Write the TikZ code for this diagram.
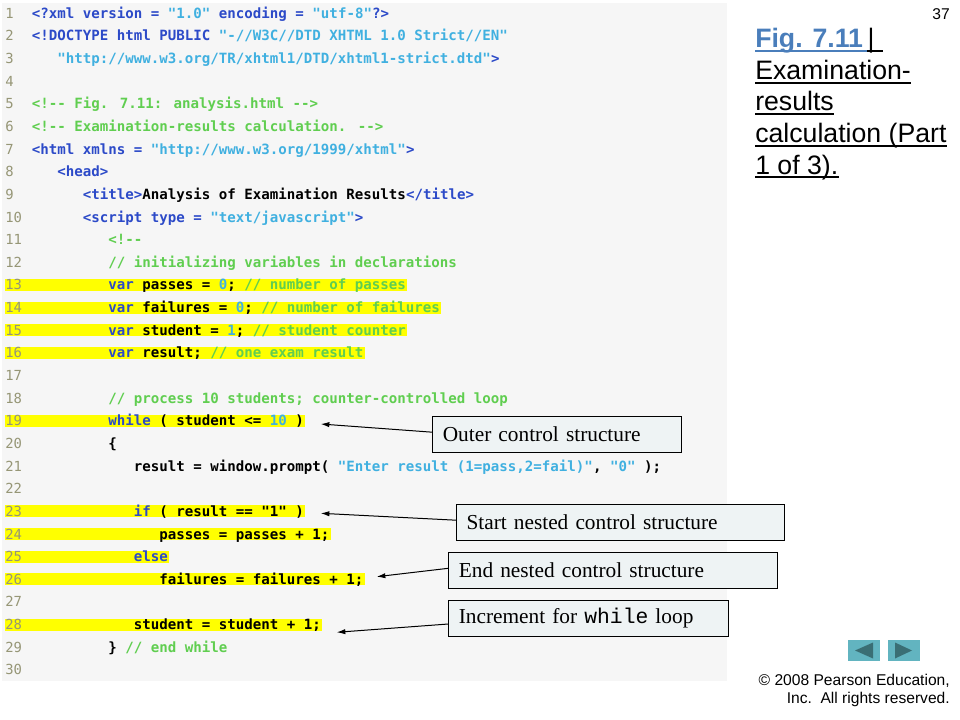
\documentclass[tikz,border=0pt]{standalone}
\usepackage{fontspec}
\setmainfont{Liberation Serif}
\newfontfamily\arialf{Liberation Sans}
\newfontfamily\codef{DejaVu Sans Mono}[Ligatures=TeXOff]
\newfontfamily\courf{Liberation Mono}[Ligatures=TeXOff]
\usetikzlibrary{arrows.meta,calc}
\definecolor{panelgray}{RGB}{246,246,246}
\definecolor{kwblue}{RGB}{44,74,200}
\definecolor{strcyan}{RGB}{64,176,224}
\definecolor{cmgreen}{RGB}{96,206,80}
\definecolor{lnumcol}{RGB}{150,150,118}
\definecolor{hlyellow}{RGB}{255,255,0}
\definecolor{boxfill}{RGB}{238,243,244}
\definecolor{btncol}{RGB}{98,180,192}
\definecolor{tricol}{RGB}{58,110,116}
\definecolor{figblue}{RGB}{74,126,187}
\newcommand\cKw[1]{{\color{kwblue}#1}}
\newcommand\cStr[1]{{\color{strcyan}#1}}
\newcommand\cCm[1]{{\color{cmgreen}#1}}
\begin{document}
\begin{tikzpicture}[x=0.75pt,y=-0.75pt,
  declare function={ly(\n)=13.3+(\n-1)*22.64;},
  lnum/.style={anchor=base west,inner sep=0,font=\codef\fontsize{10.4}{12}\selectfont,text=lnumcol},
  code/.style={anchor=base west,inner sep=0,font=\codef\fontsize{10.59}{12}\selectfont\bfseries,text=black},
  hl/.style={fill=hlyellow},
  ttl/.style={anchor=base west,inner sep=0,font=\arialf\fontsize{20}{24}\selectfont},
  ul/.style={line width=1.4pt},
  callout/.style={draw=black,fill=boxfill,line width=0.75pt,anchor=west,align=left,
    minimum height=27pt,inner xsep=7.5pt,inner ysep=0pt,font=\fontsize{16}{19}\selectfont},
  arr/.style={-{Latex[length=6.5pt,width=4pt]},line width=0.75pt,black},
  small/.style={inner sep=0,font=\arialf\fontsize{11.7}{14}\selectfont}
]
\useasboundingbox (0,0) rectangle (960,720);
% code panel
\fill[panelgray] (2,3) rectangle (727,681);
% highlights
\foreach \n/\nc in {13/44,14/48,15/44,16/39,19/32,23/32,24/35,25/16,26/39,28/34}
  \fill[hl] (5,{ly(\n)-6}) rectangle ({31.7+8.5*\nc+1.5},{ly(\n)+6});
% line numbers
\foreach \n in {1,...,30}
  \node[lnum] (n\n) at (5,{ly(\n)+5}) {\n};
% code lines
\newcommand\codeln[3]{\node[code] (c#1) at ({31.7+8.5*#2},{ly(#1)+5}) {#3};}
\codeln{1}{0}{\cKw{<?xml version =} \cStr{"1.0"} \cKw{encoding =} \cStr{"utf-8"}\cKw{?>}}
\codeln{2}{0}{\cKw{<!DOCTYPE html PUBLIC} \cStr{"-//W3C//DTD XHTML 1.0 Strict//EN"}}
\codeln{3}{3}{\cStr{"http://www.w3.org/TR/xhtml1/DTD/xhtml1-strict.dtd"}\cKw{>}}
\codeln{5}{0}{\cCm{<!-- Fig. 7.11: analysis.html -->}}
\codeln{6}{0}{\cCm{<!-- Examination-results calculation. -->}}
\codeln{7}{0}{\cKw{<html xmlns =} \cStr{"http://www.w3.org/1999/xhtml"}\cKw{>}}
\codeln{8}{3}{\cKw{<head>}}
\codeln{9}{6}{\cKw{<title>}Analysis of Examination Results\cKw{</title>}}
\codeln{10}{6}{\cKw{<script type =} \cStr{"text/javascript"}\cKw{>}}
\codeln{11}{9}{\cCm{<!--}}
\codeln{12}{9}{\cCm{// initializing variables in declarations}}
\codeln{13}{9}{\cKw{var} passes = \cStr{0}; \cCm{// number of passes}}
\codeln{14}{9}{\cKw{var} failures = \cStr{0}; \cCm{// number of failures}}
\codeln{15}{9}{\cKw{var} student = \cStr{1}; \cCm{// student counter}}
\codeln{16}{9}{\cKw{var} result; \cCm{// one exam result}}
\codeln{18}{9}{\cCm{// process 10 students; counter-controlled loop}}
\codeln{19}{9}{\cKw{while} ( student <= \cStr{10} )}
\codeln{20}{9}{\{}
\codeln{21}{12}{result = window.prompt( \cStr{"Enter result (1=pass,2=fail)"}, \cStr{"0"} );}
\codeln{23}{12}{\cKw{if} ( result == "1" )}
\codeln{24}{15}{passes = passes + 1;}
\codeln{25}{12}{\cKw{else}}
\codeln{26}{15}{failures = failures + 1;}
\codeln{28}{12}{student = student + 1;}
\codeln{29}{9}{\} \cCm{// end while}}
% callouts
\node[callout,text width=171.3pt] (b1) at (432.3,434.2) {Outer control structure};
\node[callout,text width=231.2pt] (b2) at (456,522.2) {Start nested control structure};
\node[callout,text width=231.3pt] (b3) at (448.3,570.3) {End nested control structure};
\node[callout,text width=195pt] (b4) at (448.3,618) {Increment for {\courf while} loop};
\coordinate (a1) at (320.7,424);
\coordinate (a2) at (320.7,513.3);
\coordinate (a3) at (376.7,576.7);
\coordinate (a4) at (336.7,632.3);
\draw[arr] ($(b1.west)+(0,-2)$) -- (a1);
\draw[arr] ($(b2.west)+(0,-2)$) -- (a2);
\draw[arr] ($(b3.west)+(0,-2)$) -- (a3);
\draw[arr] ($(b4.west)+(0,6)$) -- (a4);
% title
\node[ttl,text=figblue,font=\arialf\fontsize{20}{24}\selectfont\bfseries] (t1a) at (755,47.7) {Fig. 7.11};
\node[ttl] (t1b) at ($(t1a.base east)+(4,0)$) {|};
\node[ttl] (t2) at (755,79.3) {Examination-};
\node[ttl] (t3) at (755,110.9) {results};
\node[ttl] (t4) at (755,142.5) {calculation (Part};
\node[ttl] (t5) at (755,174.1) {1 of 3).};
\draw[ul,figblue] ([yshift=-2.5pt]t1a.base west) -- ([yshift=-2.5pt]t1b.base west);
\draw[ul,black] ([yshift=-2.5pt]t1b.base west) -- ([yshift=-2.5pt,xshift=6pt]t1b.base east);
\foreach \t in {t2,t3,t4,t5}
  \draw[ul,black] ([yshift=-2.5pt]\t.base west) -- ([yshift=-2.5pt]\t.base east);
% page number
\node[small,anchor=base east] (pg) at (950,19.7) {37};
% nav buttons
\fill[btncol] (848,640) rectangle (880,661);
\fill[tricol] (855,650.5) -- (873,642.5) -- (873,658.5) -- cycle;
\fill[btncol] (888,640) rectangle (920,661);
\fill[tricol] (895,642.5) -- (895,658.5) -- (912,650.5) -- cycle;
% copyright
\node[small,anchor=base east] (cp1) at (950,685.5) {© 2008 Pearson Education,};
\node[small,anchor=base east] (cp2) at (950,703.5) {Inc.\ \ All rights reserved.};
\end{tikzpicture}
\end{document}
